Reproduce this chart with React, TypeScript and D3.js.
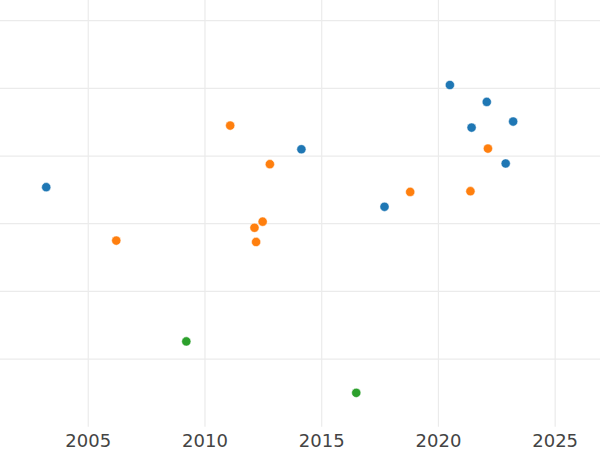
import React from "react";
import * as d3 from "d3";

const xTicks = [2005, 2010, 2015, 2020, 2025];
const yTicks = [0, 10, 20, 30, 40, 50];

const blueX = [2003.2, 2014.13, 2020.49, 2022.07, 2021.42, 2023.2, 2022.88, 2017.69];
const blueY = [25.4, 31.0, 40.5, 38.0, 34.2, 35.1, 28.9, 22.5];
const orangeX = [2011.08, 2012.78, 2012.47, 2012.12, 2012.19, 2006.2, 2022.12, 2018.79, 2021.37];
const orangeY = [34.5, 28.8, 20.3, 19.4, 17.3, 17.5, 31.1, 24.7, 24.8];
const greenX = [2009.2, 2016.48];
const greenY = [2.6, -5.0];

const seriesColors = ["#1f77b4", "#ff7f0e", "#2ca02c"];

export default function App() {
  const W = 600;
  const H = 450;
  const plotBottom = 426.7;
  const x = d3.scaleLinear().domain([2001.22, 2026.92]).range([0, W]);
  const y = d3.scaleLinear().domain([-10, 53.06]).range([plotBottom, 0]);

  const series = [
    { xs: blueX, ys: blueY, color: seriesColors[0] },
    { xs: orangeX, ys: orangeY, color: seriesColors[1] },
    { xs: greenX, ys: greenY, color: seriesColors[2] },
  ];

  return (
    <div style={{ position: "fixed", left: 0, top: 0, width: W, height: H, background: "#fff" }}>
      <svg width={W} height={H} style={{ display: "block" }}>
        <rect x={0} y={0} width={W} height={H} fill="#ffffff" />
        <g>
          {yTicks.map((t) => (
            <line key={"h" + t} x1={0} x2={W} y1={y(t)} y2={y(t)} stroke="#ebebeb" strokeWidth={1.2} />
          ))}
          {xTicks.map((t) => (
            <line key={"v" + t} x1={x(t)} x2={x(t)} y1={0} y2={plotBottom} stroke="#ebebeb" strokeWidth={1.2} />
          ))}
        </g>
        <g>
          {series.map((s, si) =>
            s.xs.map((xv, i) => (
              <circle
                key={si + "-" + i}
                cx={x(xv)}
                cy={y(s.ys[i])}
                r={4.6}
                fill={s.color}
                stroke="#ffffff"
                strokeWidth={0.5}
              />
            ))
          )}
        </g>
        <g>
          {xTicks.map((t) => (
            <text
              key={"t" + t}
              x={x(t)}
              y={447.3}
              textAnchor="middle"
              fontFamily="DejaVu Sans"
              fontSize={18}
              fill="#444444"
            >
              {String(t)}
            </text>
          ))}
        </g>
      </svg>
    </div>
  );
}
